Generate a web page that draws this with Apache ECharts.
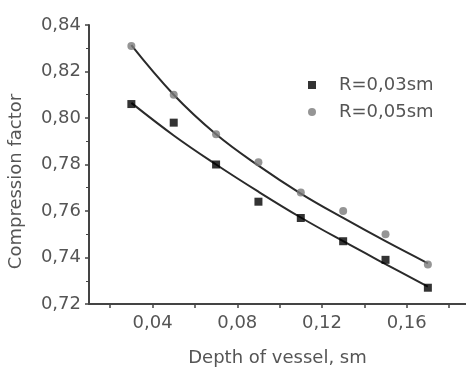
<!DOCTYPE html>
<html><head><meta charset="utf-8">
<script src="https://cdn.jsdelivr.net/npm/echarts@6/dist/echarts.min.js"></script>
<style>html,body{margin:0;padding:0;background:#fff}#c{width:466px;height:367px}</style>
</head><body><div id="c"></div>
<script>
const depth = [0.03, 0.05, 0.07, 0.09, 0.11, 0.13, 0.15, 0.17];
const r03 = [0.806, 0.798, 0.780, 0.764, 0.757, 0.747, 0.739, 0.727];
const r05 = [0.831, 0.810, 0.793, 0.781, 0.768, 0.760, 0.750, 0.737];
const fit03 = [0.8065, 0.7925, 0.7800, 0.7683, 0.7572, 0.7470, 0.7372, 0.7275];
const fit05 = [0.8313, 0.8100, 0.7930, 0.7795, 0.7675, 0.7570, 0.7470, 0.7375];
const xTicks = [0.02, 0.04, 0.06, 0.08, 0.10, 0.12, 0.14, 0.16, 0.18];
const xLabels = [0.04, 0.08, 0.12, 0.16];
const names = ['R=0,03sm', 'R=0,05sm'];

const font = 'DejaVu Sans';
const axisCol = '#444';
const txtCol = '#555';
const fmt = v => v.toFixed(2).replace('.', ',');
const pairs = (xs, ys) => xs.map((x, i) => [x, ys[i]]);

const chart = echarts.init(document.getElementById('c'), null, {renderer: 'canvas'});
chart.setOption({
  animation: false,
  backgroundColor: '#fff',
  grid: {left: 89, top: 25, right: 0, bottom: 63, outerBoundsMode: 'none', containLabel: false},
  legend: {
    orient: 'vertical', left: 303, top: 71, itemWidth: 8, itemHeight: 8, itemGap: 9,
    textStyle: {fontFamily: font, fontSize: 18, color: txtCol, lineHeight: 18, padding: [0, 0, 0, 18]},
    data: [{name: names[0], icon: 'rect'}, {name: names[1], icon: 'circle'}]
  },
  xAxis: {
    type: 'value', min: 0.01, max: 0.188,
    name: 'Depth of vessel, sm', nameLocation: 'middle', nameGap: 45,
    nameTextStyle: {fontFamily: font, fontSize: 18, color: txtCol},
    axisLine: {show: true, lineStyle: {color: axisCol, width: 2}},
    axisTick: {show: true, customValues: xTicks, length: 4, lineStyle: {color: axisCol, width: 1.5}},
    axisLabel: {customValues: xLabels, formatter: fmt, fontFamily: font, fontSize: 18, color: txtCol, margin: 10},
    splitLine: {show: false}
  },
  yAxis: {
    type: 'value', min: 0.72, max: 0.84, interval: 0.02,
    name: 'Compression factor', nameLocation: 'middle', nameGap: 64,
    nameTextStyle: {fontFamily: font, fontSize: 18, color: txtCol, padding: [0, 34, 0, 0]},
    axisLine: {show: true, lineStyle: {color: axisCol, width: 2}},
    axisTick: {show: true, length: 4, lineStyle: {color: axisCol, width: 1.5}},
    minorTick: {show: true, splitNumber: 2, length: 3, lineStyle: {color: axisCol, width: 1}},
    axisLabel: {formatter: fmt, fontFamily: font, fontSize: 18, color: txtCol, margin: 8},
    splitLine: {show: false}
  },
  series: [
    {type: 'line', data: pairs(depth, fit03), smooth: 0.4, symbol: 'none', silent: true,
     lineStyle: {color: '#2a2a2a', width: 2}, z: 1},
    {type: 'line', data: pairs(depth, fit05), smooth: 0.4, symbol: 'none', silent: true,
     lineStyle: {color: '#2a2a2a', width: 2}, z: 1},
    {name: names[0], type: 'scatter', data: pairs(depth, r03), symbol: 'rect', symbolSize: 8,
     itemStyle: {color: '#000'}, z: 3},
    {name: names[1], type: 'scatter', data: pairs(depth, r05), symbol: 'circle', symbolSize: 8,
     itemStyle: {color: '#7a7a7a'}, z: 3}
  ]
});
</script></body></html>
